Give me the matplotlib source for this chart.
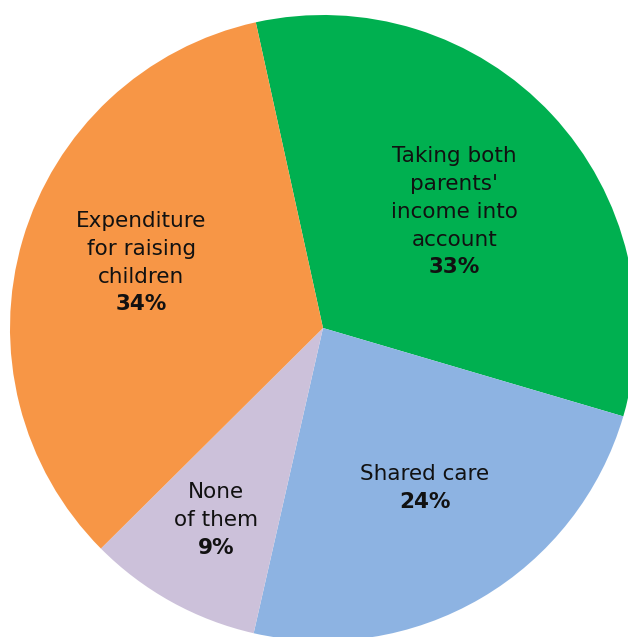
import matplotlib.pyplot as plt

# Share of respondents by preferred basis for child support
labels = ["Taking both\nparents'\nincome into\naccount", "Shared care", "None\nof them",
          "Expenditure\nfor raising\nchildren"]
shares = [33, 24, 9, 34]
colors = ['#00B050', '#8DB3E2', '#CCC1DA', '#F79646']

# label block centres, in units of the pie radius
label_pos = [(0.419, 0.371), (0.326, -0.511), (-0.342, -0.613), (-0.581, 0.208)]

start_angle = 102.4
line_step = 27.7  # pixels between text lines

fig = plt.figure(figsize=(6.28, 6.37), dpi=100)
ax = fig.add_axes([0, 0, 1, 1])

ax.pie(shares, colors=colors, startangle=start_angle,
       counterclock=False, radius=1.0, wedgeprops=dict(linewidth=0))

ax.set_xlim(-323 / 313, 305 / 313)
ax.set_ylim(-309 / 313, 328 / 313)
ax.set_aspect('equal')
ax.axis('off')

for text, share, (x, y) in zip(labels, shares, label_pos):
    lines = text.split('\n') + [f'{share}%']
    n = len(lines)
    for i, line in enumerate(lines):
        offset = ((n - 1) / 2 - i) * line_step
        ax.annotate(line, xy=(x, y), xytext=(0, offset),
                    textcoords='offset pixels', ha='center', va='center',
                    fontsize=15.5, color='#111111',
                    fontweight='bold' if i == n - 1 else 'normal')

fig.savefig('out.png', dpi=100)
